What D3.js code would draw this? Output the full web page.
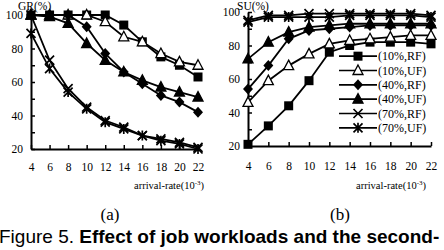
<!DOCTYPE html>
<html>
<head>
<meta charset="utf-8">
<script src="https://cdn.jsdelivr.net/npm/d3@7"></script>
<style>
  body { margin: 0; background: #fff; }
  svg { display: block; }
  .tick text { font-family: "Liberation Serif", "Times New Roman", serif; font-size: 11.5px; fill: #000; }
  .domain { stroke-width: 2; }
  .tick line { stroke-width: 1.5; }
</style>
</head>
<body>
<svg width="444" height="250"></svg>
<script>
// arrival rates (10^-3)
const rates = [4, 6, 8, 10, 12, 14, 16, 18, 20, 22]

// GR(%) panel (a)
const gr10RF = [100, 100, 100, 100, 100, 94, 84, 75, 70, 63]
const gr10UF = [100, 100, 100, 100, 96, 87, 84, 77, 72, 70]
const gr40RF = [100, 100, 100, 93, 77, 66, 59, 52, 48, 42]
const gr40UF = [100, 99, 95, 83, 73, 66, 61, 57, 54, 51]
const gr70RF = [100, 73, 56, 45, 37, 33, 28, 26, 24, 21]
const gr70UF = [89, 68, 54, 44, 36, 32, 28, 25, 23, 20]

// SU(%) panel (b)
const su10RF = [21, 32, 44, 59, 76, 80, 82, 82, 82, 81]
const su10UF = [46, 59, 68, 75, 81, 83, 84, 85, 86, 86]
const su40RF = [54, 68, 84, 89, 90, 91, 92, 92, 92, 92]
const su40UF = [72, 82, 88, 91, 92, 93, 93, 93, 93, 93]
const su70RF = [95, 98, 98, 99, 99, 99, 99, 99, 99, 98]
const su70UF = [94, 97, 97, 97, 97, 98, 98, 98, 98, 97]

const seriesNames = ['(10%,RF)', '(10%,UF)', '(40%,RF)', '(40%,UF)', '(70%,RF)', '(70%,UF)']
const markers = ['square', 'triOpen', 'diamond', 'triFill', 'cross', 'star']
const yTicks = [20, 30, 40, 50, 60, 70, 80, 90, 100]
const xTicks = rates

const svg = d3.select('svg')

// draw one marker shape into a g
const drawMarker = (sel, kind) => {
  if (kind === 'square') {
    sel.append('rect').attr('x', -4.5).attr('y', -4.5).attr('width', 9).attr('height', 9).attr('fill', '#000')
  } else if (kind === 'triOpen' || kind === 'triFill') {
    sel.append('path').attr('d', 'M0,-5.5L5,4L-5,4Z')
      .attr('fill', kind === 'triFill' ? '#000' : '#fff')
      .attr('stroke', '#000').attr('stroke-width', 1.3)
  } else if (kind === 'diamond') {
    sel.append('path').attr('d', 'M0,-5.5L5,0L0,5.5L-5,0Z').attr('fill', '#000')
  } else if (kind === 'cross') {
    sel.append('path').attr('d', 'M-4.5,-4.5L4.5,4.5M-4.5,4.5L4.5,-4.5')
      .attr('stroke', '#000').attr('stroke-width', 1.7)
  } else {
    sel.append('path').attr('d', 'M-4.5,-4.5L4.5,4.5M-4.5,4.5L4.5,-4.5M0,-5L0,5')
      .attr('stroke', '#000').attr('stroke-width', 1.7)
  }
}

const makePanel = (cfg) => {
  const x = d3.scaleLinear().domain([4, 22]).range(cfg.xr)
  const y = d3.scaleLinear().domain([20, 100]).range(cfg.yr)
  const g = svg.append('g')

  g.append('g')
    .attr('transform', `translate(0,${cfg.yr[0]})`)
    .call(d3.axisBottom(x).tickValues(xTicks).tickSize(-4).tickSizeOuter(0).tickPadding(cfg.xPad))

  g.append('g')
    .attr('transform', `translate(${cfg.xr[0]},0)`)
    .call(d3.axisLeft(y).tickValues(yTicks).tickFormat(d => d % 20 === 0 ? d : '')
      .tickSize(-4).tickSizeOuter(0).tickPadding(8))

  const line = d3.line().x((d, i) => x(rates[i])).y(d => y(d))

  cfg.series.forEach((vals, k) => {
    g.append('path')
      .datum(vals)
      .attr('d', line)
      .attr('fill', 'none')
      .attr('stroke', '#000')
      .attr('stroke-width', 1.8)
    vals.forEach((v, i) => {
      const m = g.append('g').attr('transform', `translate(${x(rates[i])},${y(v)})`)
      drawMarker(m, markers[k])
    })
  })

  g.append('text')
    .attr('x', cfg.titleX).attr('y', 9.5)
    .attr('font-family', '"Liberation Serif", serif').attr('font-size', 11.5)
    .text(cfg.title)

  const lab = g.append('text')
    .attr('x', cfg.labX).attr('y', 189)
    .attr('text-anchor', 'end')
    .attr('font-family', '"Liberation Serif", serif').attr('font-size', 10.5)
  lab.append('tspan').text('arrival-rate(10')
  lab.append('tspan').attr('dy', -4).attr('font-size', 7).text('-3')
  lab.append('tspan').attr('dy', 4).text(')')

  g.append('text')
    .attr('x', cfg.subX).attr('y', 220)
    .attr('text-anchor', 'middle')
    .attr('font-family', '"Liberation Serif", serif').attr('font-size', 17)
    .text(cfg.sub)
}

makePanel({
  xr: [31, 198], yr: [149, 15], xPad: 14, labX: 204,
  series: [gr10RF, gr10UF, gr40RF, gr40UF, gr70RF, gr70UF],
  title: 'GR(%)', titleX: 18, sub: '(a)', subX: 110
})

makePanel({
  xr: [248, 431], yr: [146, 12], xPad: 16, labX: 426,
  series: [su10RF, su10UF, su40RF, su40UF, su70RF, su70UF],
  title: 'SU(%)', titleX: 237, sub: '(b)', subX: 340
})

// legend in panel (b)
const legY = d3.scaleBand().domain(seriesNames).range([49, 135])
const leg = svg.append('g')
seriesNames.forEach((name, k) => {
  const cy = legY(name) + legY.bandwidth() / 2
  const row = leg.append('g').attr('transform', `translate(0,${cy})`)
  row.append('line').attr('x1', 339).attr('x2', 377).attr('stroke', '#000').attr('stroke-width', 1.6)
  drawMarker(row.append('g').attr('transform', 'translate(358,0)'), markers[k])
  row.append('text').attr('x', 378).attr('y', 4)
    .attr('font-family', '"Liberation Serif", serif').attr('font-size', 12)
    .text(name)
})

// caption
const cap = svg.append('text')
  .attr('x', -1).attr('y', 243)
  .attr('font-family', '"Liberation Sans", Arial, sans-serif').attr('font-size', 19)
cap.append('tspan').text('Figure 5. ')
cap.append('tspan').attr('font-weight', 'bold').text('Effect of job workloads and the second-')
</script>
</body>
</html>
